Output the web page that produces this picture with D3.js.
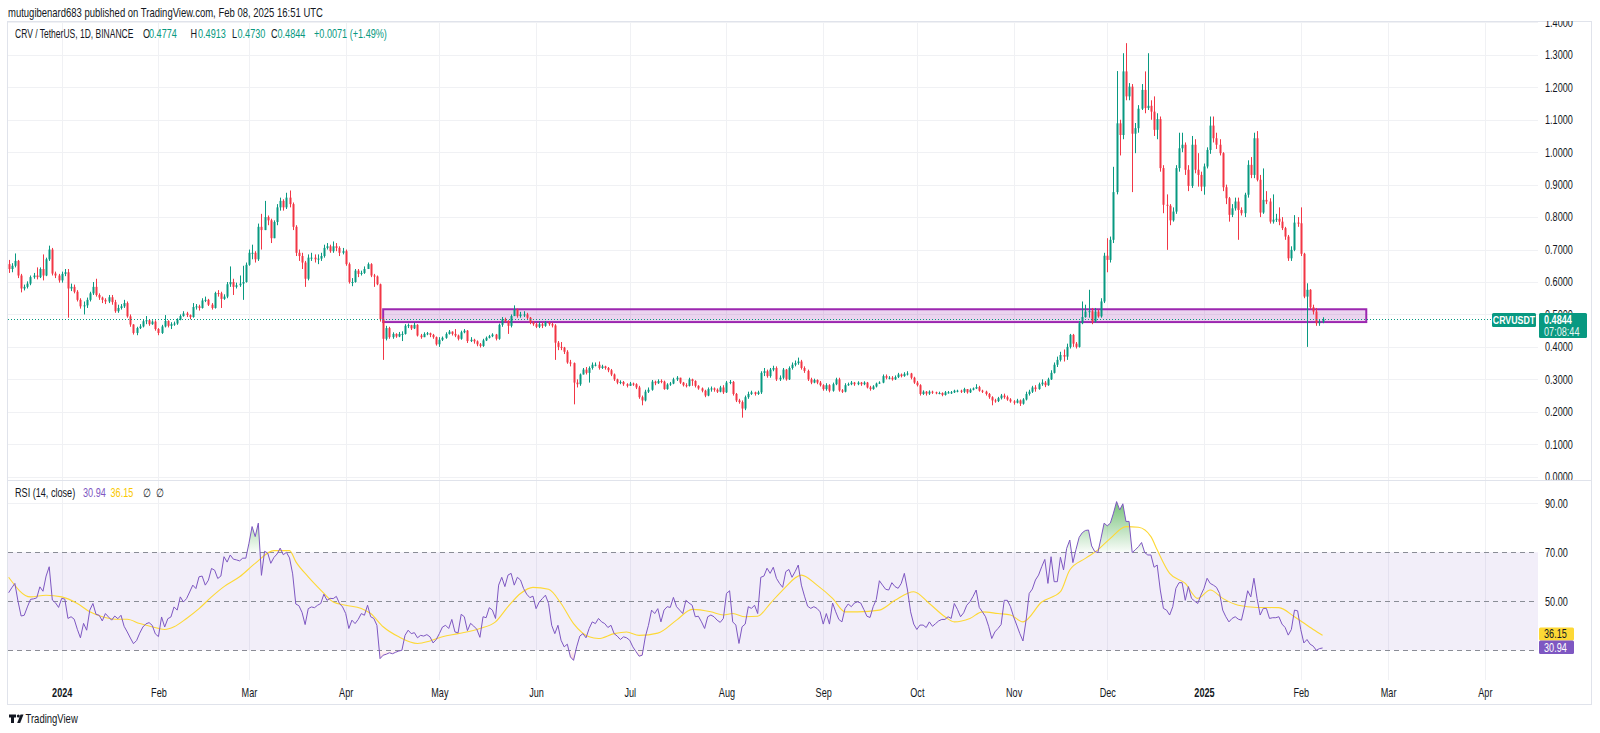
<!DOCTYPE html>
<html><head><meta charset="utf-8">
<script src="https://cdn.jsdelivr.net/npm/d3@7"></script>
<style>body{margin:0;background:#fff;}svg{display:block;}</style>
</head><body><svg id="c" width="1600" height="733"></svg>
<script>
// ---------------- DATA (daily candles from 2023-12-15 to 2025-02-08) ----------------
const startDate = "2023-12-15";
const firstOpen = 0.655;
const closes = [
0.640,0.650,0.665,0.620,0.580,0.585,0.595,0.615,0.620,0.615,0.640,0.620,0.670,0.700,0.626,0.620,0.605,
0.625,0.630,0.580,0.585,0.570,0.545,0.525,0.528,0.545,0.565,0.585,0.560,0.552,0.545,0.540,0.553,0.538,0.510,0.520,0.525,0.535,0.494,0.469,0.443,0.458,0.463,0.479,0.482,0.470,0.478,0.455,
0.443,0.463,0.480,0.465,0.470,0.472,0.484,0.495,0.503,0.498,0.492,0.523,0.525,0.520,0.543,0.545,0.530,0.520,0.566,0.565,0.548,0.555,0.593,0.600,0.585,0.590,0.595,0.600,0.653,
0.690,0.690,0.670,0.770,0.760,0.800,0.790,0.735,0.785,0.830,0.850,0.830,0.860,0.840,0.770,0.690,0.680,0.660,0.610,0.675,0.675,0.670,0.672,0.680,0.705,0.710,0.695,0.710,0.705,0.690,
0.695,0.655,0.600,0.600,0.635,0.625,0.628,0.640,0.655,0.620,0.617,0.593,0.485,0.425,
0.458,0.430,0.440,0.432,0.440,0.440,0.465,0.467,0.457,0.468,0.435,0.430,0.440,0.442,0.437,0.430,0.408,0.422,0.428,0.440,0.447,0.440,0.435,0.425,0.445,0.450,0.418,0.422,0.417,0.408,0.403,0.420,0.428,0.433,0.438,0.425,0.468,
0.485,0.480,0.465,0.495,0.515,0.495,0.500,0.500,0.490,0.475,0.470,0.462,0.470,0.465,0.475,0.470,0.466,0.413,0.400,0.398,0.385,0.352,0.350,0.290,0.285,0.315,0.330,0.320,0.335,0.345,0.345,0.335,0.340,0.335,0.328,0.315,0.300,0.290,0.292,0.285,0.280,0.287,0.285,0.275,0.245,0.235,0.262,0.268,0.293,0.288,0.295,0.293,0.270,0.284,
0.287,0.300,0.305,0.290,0.282,0.280,0.300,0.295,0.280,0.272,0.265,0.250,0.270,0.272,0.268,0.262,0.275,0.260,0.290,0.292,
0.255,0.235,0.230,0.210,0.245,0.255,0.260,0.255,0.260,0.320,0.325,0.310,0.330,0.335,0.300,0.305,0.330,0.300,0.335,0.345,
0.350,0.355,0.335,0.326,0.300,0.290,0.298,0.290,0.282,0.270,0.282,0.265,0.285,0.300,0.266,0.262,0.282,0.285,0.290,0.285,
0.290,0.285,0.290,0.275,0.270,0.278,0.287,0.290,0.310,0.305,0.305,0.300,0.307,0.315,0.310,0.317,0.318,0.305,0.290,0.282,
0.255,0.262,0.256,0.262,0.260,0.258,0.258,0.252,0.260,0.260,0.260,0.265,0.265,0.262,0.270,0.260,0.268,0.272,0.276,0.265,
0.262,0.255,0.245,0.235,0.233,0.242,
0.250,0.245,0.238,0.232,0.228,0.235,0.225,0.238,0.255,0.262,0.275,0.270,0.285,0.290,0.282,0.300,0.320,0.345,0.360,0.375,0.370,
0.400,0.437,0.410,0.400,0.473,0.492,0.509,0.510,0.478,0.509,0.494,0.540,0.681,0.668,0.730,0.877,1.089,1.053,1.249,1.172,
1.202,1.057,1.074,1.134,1.192,1.136,1.143,1.125,1.069,1.102,0.951,0.838,0.835,0.790,0.817,0.951,1.012,1.023,0.946,0.896,
1.023,0.946,0.930,0.894,0.956,1.007,1.082,1.043,1.023,0.997,0.892,0.858,0.807,0.827,0.848,0.822,0.812,0.869,0.961,0.930,
1.043,0.915,0.814,0.853,0.848,0.786,0.792,0.795,0.786,0.766,0.740,0.673,0.699,0.783,0.781,0.687,0.555,0.576,0.522,0.509,
0.473,0.4774,0.4844
];
const highs = [
0.668,0.658,0.688,0.668,0.625,0.592,0.602,0.620,0.628,0.645,0.645,0.685,0.675,0.712,0.705,0.632,0.625,
0.632,0.640,0.640,0.595,0.592,0.575,0.550,0.540,0.552,0.570,0.600,0.610,0.565,0.555,0.550,0.560,0.560,0.545,0.530,0.532,0.545,0.540,0.500,0.470,0.462,0.470,0.485,0.495,0.486,0.482,0.482,
0.458,0.468,0.498,0.482,0.476,0.478,0.488,0.500,0.510,0.508,0.500,0.535,0.532,0.530,0.550,0.555,0.548,0.535,0.570,0.575,0.570,0.562,0.600,0.648,0.610,0.598,0.620,0.650,0.660,
0.700,0.715,0.695,0.780,0.810,0.850,0.805,0.795,0.790,0.840,0.860,0.855,0.875,0.882,0.845,0.775,0.700,0.690,0.665,0.685,0.690,0.685,0.685,0.690,0.715,0.720,0.715,0.725,0.720,0.710,
0.705,0.700,0.660,0.612,0.640,0.640,0.635,0.648,0.660,0.658,0.625,0.620,0.595,0.490,
0.465,0.462,0.445,0.442,0.446,0.448,0.470,0.472,0.468,0.475,0.470,0.440,0.445,0.446,0.444,0.440,0.432,0.430,0.432,0.445,0.452,0.448,0.455,0.438,0.450,0.455,0.452,0.430,0.425,0.420,0.412,0.425,0.432,0.437,0.442,0.440,0.472,
0.492,0.490,0.482,0.500,0.528,0.518,0.508,0.510,0.505,0.492,0.480,0.475,0.478,0.475,0.480,0.478,0.475,0.470,0.418,0.415,0.400,0.390,0.360,0.352,0.300,0.318,0.335,0.338,0.340,0.352,0.352,0.355,0.345,0.342,0.338,0.332,0.318,0.302,0.297,0.295,0.288,0.292,0.290,0.288,0.280,0.250,0.268,0.275,0.298,0.296,0.300,0.300,0.296,0.288,
0.292,0.305,0.310,0.305,0.292,0.288,0.305,0.302,0.297,0.282,0.275,0.268,0.275,0.278,0.275,0.272,0.280,0.282,0.295,0.298,
0.295,0.258,0.240,0.235,0.250,0.262,0.265,0.262,0.265,0.325,0.335,0.330,0.335,0.342,0.340,0.312,0.335,0.332,0.340,0.352,
0.358,0.367,0.360,0.340,0.330,0.305,0.302,0.300,0.295,0.285,0.288,0.285,0.290,0.305,0.305,0.270,0.288,0.290,0.295,0.292,
0.294,0.292,0.294,0.292,0.280,0.282,0.290,0.294,0.315,0.315,0.310,0.310,0.312,0.320,0.318,0.322,0.325,0.320,0.308,0.295,
0.285,0.266,0.264,0.266,0.265,0.262,0.262,0.260,0.264,0.264,0.264,0.268,0.268,0.268,0.274,0.270,0.272,0.275,0.285,0.280,
0.268,0.265,0.258,0.248,0.240,0.246,
0.255,0.256,0.250,0.242,0.236,0.240,0.238,0.242,0.262,0.268,0.280,0.282,0.290,0.300,0.295,0.305,0.328,0.352,0.370,0.385,0.392,
0.410,0.440,0.440,0.415,0.480,0.540,0.530,0.576,0.520,0.520,0.515,0.550,0.690,0.735,0.740,0.955,1.250,1.100,1.305,1.336,
1.213,1.210,1.090,1.145,1.210,1.249,1.305,1.160,1.172,1.120,1.110,0.960,0.870,0.840,0.830,0.960,1.060,1.060,1.030,0.960,
1.050,1.040,0.997,0.940,0.965,1.015,1.110,1.110,1.060,1.040,1.000,0.900,0.862,0.840,0.860,0.860,0.830,0.875,0.975,0.985,
1.060,1.065,0.930,0.950,0.880,0.858,0.870,0.810,0.830,0.800,0.770,0.745,0.710,0.806,0.800,0.830,0.690,0.596,0.578,0.530,
0.520,0.485,0.4913
];
const lows = [
0.628,0.630,0.645,0.612,0.568,0.574,0.580,0.590,0.610,0.608,0.612,0.605,0.618,0.665,0.620,0.612,0.598,
0.598,0.618,0.490,0.572,0.565,0.540,0.518,0.500,0.520,0.540,0.560,0.555,0.545,0.535,0.532,0.535,0.530,0.505,0.505,0.515,0.520,0.490,0.462,0.438,0.436,0.455,0.460,0.470,0.465,0.468,0.450,
0.436,0.440,0.460,0.460,0.455,0.465,0.468,0.482,0.493,0.492,0.485,0.490,0.515,0.512,0.518,0.538,0.526,0.515,0.518,0.555,0.520,0.545,0.550,0.585,0.560,0.580,0.585,0.545,0.598,
0.650,0.670,0.660,0.665,0.700,0.760,0.775,0.720,0.735,0.775,0.820,0.820,0.825,0.830,0.760,0.680,0.665,0.640,0.585,0.605,0.665,0.660,0.655,0.665,0.675,0.700,0.690,0.690,0.695,0.680,
0.685,0.650,0.595,0.587,0.598,0.615,0.620,0.625,0.640,0.615,0.585,0.590,0.478,0.360,
0.420,0.425,0.425,0.428,0.430,0.418,0.438,0.458,0.452,0.455,0.432,0.425,0.430,0.436,0.430,0.425,0.404,0.400,0.418,0.425,0.438,0.435,0.430,0.420,0.422,0.442,0.412,0.415,0.410,0.402,0.398,0.400,0.418,0.426,0.430,0.420,0.422,
0.462,0.475,0.440,0.460,0.495,0.490,0.490,0.492,0.485,0.470,0.465,0.458,0.458,0.458,0.462,0.465,0.460,0.360,0.390,0.390,0.378,0.348,0.340,0.223,0.275,0.280,0.315,0.315,0.290,0.330,0.340,0.330,0.332,0.330,0.322,0.310,0.295,0.285,0.285,0.280,0.275,0.280,0.280,0.270,0.240,0.220,0.232,0.258,0.265,0.282,0.286,0.288,0.268,0.268,
0.280,0.285,0.295,0.286,0.278,0.275,0.278,0.280,0.275,0.268,0.260,0.245,0.248,0.262,0.262,0.258,0.260,0.255,0.258,0.285,
0.250,0.230,0.225,0.182,0.205,0.240,0.252,0.250,0.252,0.255,0.310,0.305,0.305,0.325,0.295,0.295,0.300,0.296,0.298,0.330,
0.340,0.345,0.330,0.320,0.295,0.285,0.288,0.285,0.278,0.265,0.265,0.260,0.262,0.282,0.262,0.258,0.260,0.280,0.282,0.280,
0.282,0.280,0.282,0.272,0.265,0.268,0.275,0.286,0.288,0.300,0.300,0.296,0.298,0.304,0.306,0.308,0.312,0.300,0.286,0.278,
0.250,0.252,0.250,0.252,0.255,0.254,0.254,0.248,0.250,0.256,0.255,0.258,0.260,0.258,0.258,0.256,0.258,0.266,0.270,0.262,
0.258,0.250,0.240,0.220,0.228,0.230,
0.238,0.240,0.234,0.228,0.222,0.226,0.218,0.222,0.235,0.250,0.258,0.262,0.268,0.280,0.276,0.280,0.298,0.318,0.338,0.355,0.355,
0.360,0.395,0.400,0.395,0.398,0.470,0.490,0.490,0.470,0.475,0.490,0.490,0.535,0.630,0.660,0.720,0.870,0.990,1.040,1.160,
1.160,0.877,0.997,1.060,1.130,1.120,1.130,1.100,1.050,1.040,0.940,0.812,0.699,0.775,0.786,0.810,0.940,1.000,0.930,0.880,
0.890,0.935,0.894,0.880,0.869,0.950,0.995,1.030,1.010,0.990,0.880,0.840,0.786,0.800,0.820,0.730,0.805,0.800,0.860,0.920,
0.920,0.910,0.800,0.810,0.840,0.780,0.780,0.785,0.775,0.760,0.730,0.665,0.665,0.695,0.770,0.680,0.550,0.400,0.515,0.500,
0.465,0.465,0.4730
];
// RSI (14, close), one value per candle
const rsiValues = [
53.5,55.5,57.3,50.0,44.0,44.3,47.7,50.8,51.0,51.4,55.9,54.1,60.3,64.1,50.5,49.4,47.5,
51.2,50.9,43.0,43.7,42.7,38.6,35.1,41.0,38.2,46.4,
49.1,44.7,44.3,42.0,45.0,43.6,42.3,44.0,42.9,44.3,
39.8,37.5,35.0,32.7,34.0,37.0,39.5,40.8,41.3,40.2,
36.7,35.6,43.6,39.5,42.9,43.6,47.7,46.4,51.8,49.7,
51.1,53.8,56.6,55.2,60.0,60.3,56.6,58.6,63.4,62.7,
59.3,60.3,68.2,66.0,68.9,67.2,66.9,66.5,67.6,67.6,
73.7,80.5,76.4,81.9,60.6,70.4,69.7,65.5,67.9,69.3,
71.7,69.0,70.0,67.7,61.2,48.9,48.2,45.5,40.5,47.0,
47.7,47.4,48.4,49.1,52.9,50.4,51.2,51.1,52.0,49.1,
47.7,45.0,38.9,42.3,40.9,42.6,45.0,44.3,48.4,43.7,
43.0,40.2,26.6,28.0,28.4,29.0,28.6,29.2,29.7,30.0,
36.1,38.2,36.8,37.2,35.1,36.1,35.8,36.4,35.5,33.0,
34.4,36.8,39.5,40.2,38.9,42.6,37.5,37.1,44.7,43.7,
38.0,41.0,39.9,38.6,35.3,43.7,43.3,47.4,46.4,43.0,
56.6,59.8,56.0,60.7,61.4,56.6,59.8,58.7,55.2,52.9,
51.5,52.1,47.0,49.7,51.1,52.5,49.1,40.2,36.8,40.2,
34.1,31.4,32.5,27.3,25.9,31.4,35.8,36.8,35.1,38.9,
41.6,40.9,43.0,41.6,40.9,39.3,40.2,36.8,35.8,34.4,
35.5,35.1,34.1,31.4,29.5,27.6,28.0,35.5,40.2,46.4,
45.0,47.0,41.6,46.4,47.8,47.5,51.6,47.8,46.4,45.0,
50.4,49.3,48.4,43.7,43.9,41.6,38.9,43.7,44.4,43.7,
42.3,41.4,43.0,53.2,54.3,41.6,40.3,32.8,39.6,40.7,
47.8,47.1,48.4,45.0,59.8,60.3,63.5,61.4,63.9,59.4,
57.3,55.7,62.1,63.0,59.8,62.1,64.8,56.6,52.1,48.0,
47.1,47.8,47.1,45.7,40.7,45.0,40.7,49.3,45.7,42.6,
41.6,47.1,48.9,47.8,49.3,49.8,49.3,46.7,43.9,43.4,
47.8,50.7,58.4,56.6,54.9,54.6,57.6,56.0,55.3,57.3,
61.4,54.6,45.7,40.7,38.5,40.3,40.3,39.3,41.6,39.8,
40.9,42.0,42.6,42.6,43.7,43.0,49.1,46.7,43.7,45.3,
48.4,49.8,52.0,54.6,47.5,45.7,43.7,39.8,34.8,37.5,
38.9,40.5,50.4,50.4,47.8,43.7,40.3,36.8,33.8,42.3,
53.2,55.0,58.7,60.7,64.1,67.1,57.3,68.2,58.0,58.0,
68.0,62.8,71.6,75.0,65.8,71.2,76.1,78.0,78.9,79.1,
72.6,70.3,69.9,75.7,81.9,80.8,81.9,86.0,90.7,87.3,
89.8,82.6,82.6,69.9,71.0,72.3,74.0,69.9,68.9,68.9,
63.9,64.8,54.6,47.1,46.4,44.4,47.8,55.3,57.6,57.6,
50.4,56.0,51.2,50.1,49.1,52.5,55.3,59.4,57.3,56.6,
55.7,53.2,46.4,43.7,41.6,43.0,43.7,42.7,42.3,47.8,
54.3,51.8,59.4,51.2,44.4,47.1,47.1,43.0,43.3,43.3,
43.7,40.7,39.3,36.2,38.5,46.4,46.1,38.5,33.0,34.4,
32.5,31.7,30.0,30.7,30.94
];
// RSI-based moving average, read at these candle indices
const rsiMaIdx = [0,7,12,17,22,26,30,34,38,42,46,50,53,57,61,65,69,74,79,85,90,92,96,100,104,108,113,116,120,125,131,135,139,144,151,156,160,164,168,173,177,181,186,189,194,198,202,208,214,219,225,229,232,236,240,244,248,254,259,264,268,272,279,284,290,295,300,303,308,312,317,321,325,331,337,340,345,349,353,358,362,366,368,372,377,381,385,389,394,400,407,412,418,421];
const rsiMaValues = [59.8,51.8,52.5,51.8,49.1,45.7,43.7,42.7,42.7,40.9,39.6,38.5,39.6,43.0,47.0,51.8,56.0,60.0,65.5,70.7,70.7,66.2,60.0,54.6,49.7,48.4,47.1,45.0,39.6,35.5,32.8,33.8,35.5,36.8,38.9,41.6,47.8,53.2,55.7,54.9,49.1,40.9,35.5,34.8,36.8,37.5,36.1,37.0,42.3,46.7,45.7,44.4,45.0,43.7,43.9,49.1,54.6,60.7,56.6,51.2,45.7,45.7,46.4,50.4,53.9,49.1,43.7,41.6,43.0,45.7,45.0,44.4,41.6,49.7,53.9,62.8,67.5,71.0,75.7,80.5,80.2,76.4,71.0,61.4,57.3,51.2,54.6,51.2,48.4,47.5,47.4,43.7,38.5,36.15];
// axes
const priceTicks = [0,0.1,0.2,0.3,0.4,0.5,0.6,0.7,0.8,0.9,1.0,1.1,1.2,1.3,1.4];
const rsiTicks = [90,70,50];
const rsiLevels = [70,50,30];
const monthTicks = ["2024-01-01","2024-02-01","2024-03-01","2024-04-01","2024-05-01","2024-06-01","2024-07-01","2024-08-01","2024-09-01","2024-10-01","2024-11-01","2024-12-01","2025-01-01","2025-02-01","2025-03-01","2025-04-01"];
const monthLabels = ["2024","Feb","Mar","Apr","May","Jun","Jul","Aug","Sep","Oct","Nov","Dec","2025","Feb","Mar","Apr"];
const zoneTop = 0.516, zoneBottom = 0.4765, zoneStart = "2024-04-13", zoneEnd = "2025-02-22";
const lastPrice = 0.4844;

// ---------------- DRAWING ----------------
const SX = 0.76;
const FONT = '"Liberation Sans", Arial, sans-serif';
const UP = '#089981', DN = '#F23645';
const svg = d3.select('#c').attr('font-family', FONT);
const parse = s => new Date(s + "T00:00:00Z");
const t0 = parse(startDate).getTime();
const dates = closes.map((_, i) => new Date(t0 + i * 86400000));
const opens = closes.map((c, i) => i === 0 ? firstOpen : closes[i - 1]);

const PL = 8, PR = 1538, PT = 21, PB = 480, RT = 481, RB = 680;
const x = d3.scaleUtc().domain([parse("2024-01-01"), parse("2025-01-01")]).range([61.7, 61.7 + 366 * 3.121]);
const y = d3.scaleLinear().domain([0, 1.4]).range([476.7, 22.4]);
const r = d3.scaleLinear().domain([30, 90]).range([650.3, 503.3]);
const LABEL_TOP = 313;

const defs = svg.append('defs');
defs.append('clipPath').attr('id', 'cp').append('rect').attr('x', PL).attr('y', PT).attr('width', PR - PL).attr('height', PB - PT);
defs.append('clipPath').attr('id', 'cr').append('rect').attr('x', PL).attr('y', RT).attr('width', PR - PL).attr('height', RB - RT);
defs.append('clipPath').attr('id', 'cax').append('rect').attr('x', PR).attr('y', PT).attr('width', 60).attr('height', PB - PT);
defs.append('clipPath').attr('id', 'c05').append('rect').attr('x', -5).attr('y', -20).attr('width', 70).attr('height', LABEL_TOP - y(0.5) + 20);
defs.append('clipPath').attr('id', 'cabove').append('rect').attr('x', PL).attr('y', RT).attr('width', PR - PL).attr('height', r(70) - RT);
defs.append('clipPath').attr('id', 'cbelow').append('rect').attr('x', PL).attr('y', r(30)).attr('width', PR - PL).attr('height', RB - r(30));
const gUp = defs.append('linearGradient').attr('id', 'gup').attr('gradientUnits', 'userSpaceOnUse').attr('x1', 0).attr('x2', 0).attr('y1', r(90)).attr('y2', r(70));
gUp.append('stop').attr('offset', 0).attr('stop-color', 'rgb(76,175,80)').attr('stop-opacity', 0.75);
gUp.append('stop').attr('offset', 1).attr('stop-color', 'rgb(76,175,80)').attr('stop-opacity', 0.03);
const gDn = defs.append('linearGradient').attr('id', 'gdn').attr('gradientUnits', 'userSpaceOnUse').attr('x1', 0).attr('x2', 0).attr('y1', r(30)).attr('y2', r(15));
gDn.append('stop').attr('offset', 0).attr('stop-color', 'rgb(242,54,69)').attr('stop-opacity', 0.03);
gDn.append('stop').attr('offset', 1).attr('stop-color', 'rgb(242,54,69)').attr('stop-opacity', 0.75);

function txt(g, xx, yy, s, o = {}) {
  return g.append('text').attr('transform', `translate(${xx},${yy}) scale(${o.sx || SX},1)`)
    .attr('dy', '0.35em').attr('font-size', o.size || 12).attr('fill', o.color || '#131722')
    .attr('font-weight', o.weight || 400).attr('text-anchor', o.anchor || 'start').text(s);
}

// frame
svg.append('rect').attr('x', 7.5).attr('y', 21.5).attr('width', 1584).attr('height', 683).attr('fill', 'none').attr('stroke', '#e0e3eb');

// vertical month grid
const mDates = monthTicks.map(parse);
svg.append('g').selectAll('line').data(mDates).join('line')
  .attr('x1', d => Math.round(x(d)) + 0.5).attr('x2', d => Math.round(x(d)) + 0.5)
  .attr('y1', PT + 1).attr('y2', RB).attr('stroke', '#f0f1f4');
// horizontal price grid
svg.append('g').selectAll('line').data(priceTicks).join('line')
  .attr('x1', PL).attr('x2', PR).attr('y1', d => Math.round(y(d)) + 0.5).attr('y2', d => Math.round(y(d)) + 0.5)
  .attr('stroke', '#f0f1f4');
// pane separator
svg.append('line').attr('x1', 7.5).attr('x2', 1591.5).attr('y1', 480.5).attr('y2', 480.5).attr('stroke', '#e0e3eb');
// RSI grid 90
svg.append('line').attr('x1', PL).attr('x2', PR).attr('y1', Math.round(r(90)) + 0.5).attr('y2', Math.round(r(90)) + 0.5).attr('stroke', '#f0f1f4');

// zone rectangle
const gP = svg.append('g').attr('clip-path', 'url(#cp)');
gP.append('rect').attr('x', x(parse(zoneStart))).attr('y', y(zoneTop))
  .attr('width', x(parse(zoneEnd)) - x(parse(zoneStart))).attr('height', y(zoneBottom) - y(zoneTop))
  .attr('fill', 'rgba(156,39,176,0.2)').attr('stroke', '#9c27b0').attr('stroke-width', 2);

// current price dotted line
svg.append('line').attr('x1', PL).attr('x2', PR).attr('y1', y(lastPrice)).attr('y2', y(lastPrice))
  .attr('stroke', UP).attr('stroke-width', 1).attr('stroke-dasharray', '1,2');

// candles
const cg = gP.append('g');
const cd = closes.map((c, i) => ({ d: dates[i], o: opens[i], h: highs[i], l: lows[i], c }));
cg.selectAll('line').data(cd).join('line')
  .attr('x1', d => Math.round(x(d.d)) + 0.5).attr('x2', d => Math.round(x(d.d)) + 0.5)
  .attr('y1', d => y(d.h)).attr('y2', d => y(d.l))
  .attr('stroke', d => d.c >= d.o ? UP : DN).attr('stroke-width', 1);
cg.selectAll('rect').data(cd).join('rect')
  .attr('x', d => Math.round(x(d.d)) - 0.5).attr('width', 2)
  .attr('y', d => y(Math.max(d.o, d.c)))
  .attr('height', d => Math.max(1, Math.abs(y(d.o) - y(d.c))))
  .attr('fill', d => d.c >= d.o ? UP : DN);

// RSI pane
const gR = svg.append('g').attr('clip-path', 'url(#cr)');
gR.append('rect').attr('x', PL).attr('width', PR - PL).attr('y', r(70)).attr('height', r(30) - r(70)).attr('fill', 'rgba(126,87,194,0.1)');
gR.selectAll('line.lv').data(rsiLevels).join('line').attr('class', 'lv')
  .attr('x1', PL).attr('x2', PR).attr('y1', d => Math.round(r(d)) + 0.5).attr('y2', d => Math.round(r(d)) + 0.5)
  .attr('stroke', '#8a8d96').attr('stroke-dasharray', '5,4');
const rd = rsiValues.map((v, i) => ({ d: dates[i], v }));
gR.append('path').datum(rd).attr('clip-path', 'url(#cabove)')
  .attr('d', d3.area().x(d => x(d.d)).y0(r(70)).y1(d => r(d.v))).attr('fill', 'url(#gup)');
gR.append('path').datum(rd).attr('clip-path', 'url(#cbelow)')
  .attr('d', d3.area().x(d => x(d.d)).y0(r(30)).y1(d => r(d.v))).attr('fill', 'url(#gdn)');
const md = rsiMaIdx.map((k, i) => ({ d: dates[k], v: rsiMaValues[i] }));
gR.append('path').datum(md).attr('d', d3.line().x(d => x(d.d)).y(d => r(d.v)).curve(d3.curveMonotoneX))
  .attr('fill', 'none').attr('stroke', '#fdd835').attr('stroke-width', 1.1);
gR.append('path').datum(rd).attr('d', d3.line().x(d => x(d.d)).y(d => r(d.v)))
  .attr('fill', 'none').attr('stroke', '#7e57c2').attr('stroke-width', 1);

// price axis
const gPA = svg.append('g').attr('clip-path', 'url(#cax)').append('g').attr('transform', `translate(${PR},0)`)
  .call(d3.axisRight(y).tickValues(priceTicks).tickFormat(d => d.toFixed(4)).tickSize(0).tickPadding(0));
gPA.attr('font-family', FONT).attr('font-size', 12);
gPA.select('.domain').remove();
gPA.selectAll('text').attr('x', 0).attr('transform', `translate(7,0) scale(${SX},1)`).attr('fill', '#131722');
// the 0.5000 label only peeks out above the last-price label, as in the original
gPA.selectAll('.tick').filter(d => d === 0.5).select('text').attr('clip-path', 'url(#c05)');

// RSI axis
const gRA = svg.append('g').attr('transform', `translate(${PR},0)`)
  .call(d3.axisRight(r).tickValues(rsiTicks).tickFormat(d => d.toFixed(2)).tickSize(0).tickPadding(0));
gRA.attr('font-family', FONT).attr('font-size', 12);
gRA.select('.domain').remove();
gRA.selectAll('text').attr('x', 0).attr('transform', `translate(7,0) scale(${SX},1)`).attr('fill', '#131722');

// time axis
const gTA = svg.append('g').attr('transform', `translate(0,${RB})`)
  .call(d3.axisBottom(x).tickValues(mDates).tickFormat((d, i) => monthLabels[i]).tickSize(0).tickPadding(8));
gTA.attr('font-family', FONT).attr('font-size', 12);
gTA.select('.domain').remove();
gTA.selectAll('text').attr('transform', `scale(${SX},1)`).attr('fill', '#131722')
  .attr('font-weight', (d, i) => monthLabels[i].length === 4 ? 600 : 400);

// price labels
svg.append('rect').attr('x', 1492).attr('y', LABEL_TOP).attr('width', 44).attr('height', 14).attr('rx', 1.5).attr('fill', UP);
txt(svg, 1514, 320, 'CRVUSDT', { color: '#fff', anchor: 'middle', size: 11, weight: 600, sx: 0.8 });
svg.append('rect').attr('x', 1539).attr('y', LABEL_TOP).attr('width', 48).attr('height', 25).attr('rx', 1.5).attr('fill', UP);
txt(svg, 1544, 320, lastPrice.toFixed(4), { color: '#fff', weight: 700 });
txt(svg, 1544, 332, '07:08:44', { color: '#e8f5f2' });
svg.append('rect').attr('x', 1539).attr('y', 627.5).attr('width', 35).attr('height', 13).attr('rx', 1.5).attr('fill', '#fdd835');
txt(svg, 1544, 634, rsiMaValues[rsiMaValues.length - 1].toFixed(2), { color: '#131722' });
svg.append('rect').attr('x', 1539).attr('y', 640.5).attr('width', 35).attr('height', 13.5).attr('rx', 1.5).attr('fill', '#7e57c2');
txt(svg, 1544, 647.5, rsiValues[rsiValues.length - 1].toFixed(2), { color: '#fff' });

// header texts
txt(svg, 8, 12.5, 'mutugibenard683 published on TradingView.com, Feb 08, 2025 16:51 UTC', { size: 12.5 });
const n = closes.length - 1;
txt(svg, 15, 34, 'CRV / TetherUS, 1D, BINANCE', { sx: 0.71 });
const legend = [['O', 143, '#131722'], [opens[n].toFixed(4), 149, UP], ['H', 190.5, '#131722'], [highs[n].toFixed(4), 198, UP],
  ['L', 232, '#131722'], [lows[n].toFixed(4), 237.5, UP], ['C', 271, '#131722'], [closes[n].toFixed(4), 277.5, UP],
  ['+0.0071 (+1.49%)', 314, UP]];
legend.forEach(([s, xx, c]) => txt(svg, xx, 34, s, { color: c }));
txt(svg, 15, 493, 'RSI (14, close)');
txt(svg, 83, 493, rsiValues[n].toFixed(2), { color: '#7e57c2' });
txt(svg, 110.5, 493, rsiMaValues[rsiMaValues.length - 1].toFixed(2), { color: '#f9c800' });
txt(svg, 143, 493, '\u2205', { color: '#131722' });
txt(svg, 155.5, 493, '\u2205', { color: '#131722' });

// TradingView logo
const lg = svg.append('g').attr('fill', '#131722');
lg.append('path').attr('d', 'M9,714.5h7v3h-2v5.5h-3v-5.5h-2z');
lg.append('circle').attr('cx', 18.3).attr('cy', 716).attr('r', 1.5);
lg.append('path').attr('d', 'M20.5,714.5h3l-3.3,8.5h-3z');
txt(svg, 25.5, 719, 'TradingView', { size: 12.5 });
</script></body></html>
